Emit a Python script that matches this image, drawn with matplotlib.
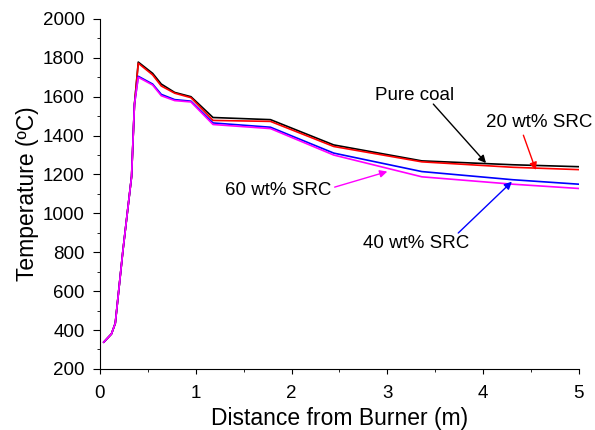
import matplotlib
matplotlib.use("Agg")
import matplotlib.pyplot as plt
from matplotlib.ticker import MultipleLocator

plt.rcParams['font.family'] = ['Liberation Sans', 'DejaVu Sans']

# Data
x_rise = [0.04, 0.12, 0.16, 0.24, 0.33, 0.36]
t_rise = [338, 380, 435, 810, 1190, 1560]
x_tail = [0.40, 0.55, 0.64, 0.78, 0.95, 1.18, 1.78, 2.44, 3.36, 4.31, 5.0]
pure_coal = [1778, 1720, 1665, 1622, 1600, 1493, 1482, 1352, 1270, 1250, 1240]
src20 = [1772, 1712, 1655, 1618, 1595, 1478, 1473, 1344, 1265, 1237, 1225]
src40 = [1705, 1665, 1612, 1585, 1577, 1465, 1443, 1310, 1215, 1173, 1150]
src60 = [1700, 1660, 1605, 1580, 1573, 1457, 1436, 1300, 1188, 1150, 1128]

series = [
    ("Pure coal", pure_coal, "black"),
    ("20 wt% SRC", src20, "red"),
    ("40 wt% SRC", src40, "blue"),
    ("60 wt% SRC", src60, "#ff00ff"),
]

# annotation: label, text pos, arrow tail, arrow head, colour
notes = [
    ("Pure coal", (3.28, 1608), (3.48, 1562), (4.03, 1259), "black"),
    ("20 wt% SRC", (4.59, 1469), (4.42, 1402), (4.55, 1223), "red"),
    ("60 wt% SRC", (1.86, 1120), (2.45, 1135), (3.0, 1215), "#ff00ff"),
    ("40 wt% SRC", (3.30, 847), (3.74, 899), (4.30, 1163), "blue"),
]

fig = plt.figure(figsize=(5.95, 4.30), dpi=100)
ax = fig.add_axes([0.168, 0.142, 0.805, 0.814])

for name, vals, col in series:
    ax.plot(x_rise + x_tail, t_rise + vals, color=col, lw=1.2)

ax.set_xlim(0, 5)
ax.set_ylim(200, 2000)
ax.xaxis.set_major_locator(MultipleLocator(1))
ax.xaxis.set_minor_locator(MultipleLocator(0.5))
ax.yaxis.set_major_locator(MultipleLocator(200))
ax.yaxis.set_minor_locator(MultipleLocator(100))
ax.tick_params(which='both', direction='out', labelsize=13.5)
ax.tick_params(axis='x', which='major', length=3.5, pad=8)
ax.tick_params(axis='x', which='minor', length=2.5)
ax.tick_params(axis='y', which='major', length=5, pad=6)
ax.tick_params(axis='y', which='minor', length=2.5)
for s in ['top', 'right']:
    ax.spines[s].set_visible(False)

ax.set_xlabel("Distance from Burner (m)", fontsize=16.5, labelpad=3.5)
ax.set_ylabel("Temperature (ºC)", fontsize=16.5, labelpad=3)

for label, tpos, tail, head, col in notes:
    ax.text(tpos[0], tpos[1], label, fontsize=13.5, ha='center', va='center')
    ax.annotate("", xy=head, xytext=tail,
                arrowprops=dict(arrowstyle='-|>', color=col, lw=1.0,
                                shrinkA=0, shrinkB=0, mutation_scale=11))

fig.savefig("out.png", dpi=100)
